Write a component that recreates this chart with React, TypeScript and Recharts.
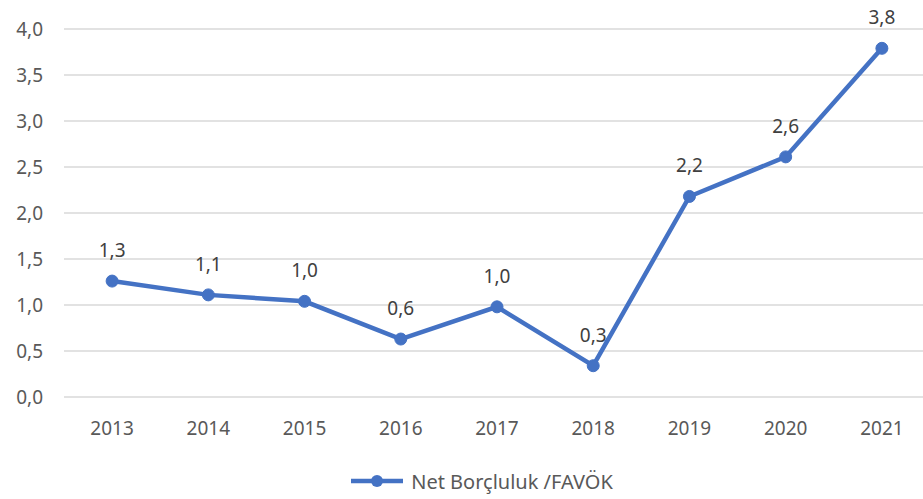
import { LineChart, Line, XAxis, YAxis, CartesianGrid, Legend, LabelList } from 'recharts'

const years = ['2013', '2014', '2015', '2016', '2017', '2018', '2019', '2020', '2021']
const ratio = [1.26, 1.11, 1.04, 0.63, 0.98, 0.34, 2.18, 2.61, 3.79]
const yTicks = [0, 0.5, 1, 1.5, 2, 2.5, 3, 3.5, 4]
const seriesName = 'Net Borçluluk /FAVÖK'

const blue = '#4472C4'
const font = '"Noto Sans", "Open Sans", sans-serif'

const data = years.map((year, i) => ({ year, value: ratio[i] }))

const fmt = (v: number) => v.toFixed(1).replace('.', ',')

function LegendContent() {
  return (
    <div
      style={{
        height: 30,
        display: 'flex',
        alignItems: 'center',
        justifyContent: 'center',
        fontFamily: font,
        fontSize: 20,
        color: '#595959',
      }}
    >
      <svg width={56} height={16} style={{ marginRight: 6 }}>
        <line x1={2} y1={8} x2={54} y2={8} stroke={blue} strokeWidth={4.5} />
        <circle cx={28} cy={8} r={6} fill={blue} />
      </svg>
      <span>{seriesName}</span>
    </div>
  )
}

export default function App() {
  return (
    <div
      style={{
        position: 'absolute',
        left: 0,
        top: 0,
        width: 923,
        height: 499,
        overflow: 'hidden',
        background: '#fff',
      }}
    >
      <LineChart
        width={940}
        height={499}
        data={data}
        margin={{ top: 29, right: 10, left: 0, bottom: 22 }}
      >
        <CartesianGrid vertical={false} stroke="#d9d9d9" strokeWidth={1.5} />
        <XAxis
          dataKey="year"
          scale="band"
          height={50}
          axisLine={false}
          tickLine={false}
          tickSize={0}
          tickMargin={25}
          tick={{ fill: '#595959', fontSize: 19, fontFamily: font }}
        />
        <YAxis
          width={64}
          domain={[0, 4]}
          ticks={yTicks}
          axisLine={false}
          tickLine={false}
          tickSize={0}
          tickMargin={21}
          tickFormatter={fmt}
          tick={{ fill: '#595959', fontSize: 19, fontFamily: font }}
        />
        <Legend
          verticalAlign="bottom"
          content={<LegendContent />}
          wrapperStyle={{ bottom: 3, left: 0, width: 962 }}
        />
        <Line
          type="linear"
          dataKey="value"
          name={seriesName}
          stroke={blue}
          strokeWidth={4.5}
          dot={{ r: 6, fill: blue, stroke: blue, strokeWidth: 1 }}
          isAnimationActive={false}
        >
          <LabelList
            dataKey="value"
            position="top"
            offset={24}
            formatter={(v: any) => fmt(Number(v))}
            style={{ fill: '#404040', fontSize: 19, fontFamily: font }}
          />
        </Line>
      </LineChart>
    </div>
  )
}
